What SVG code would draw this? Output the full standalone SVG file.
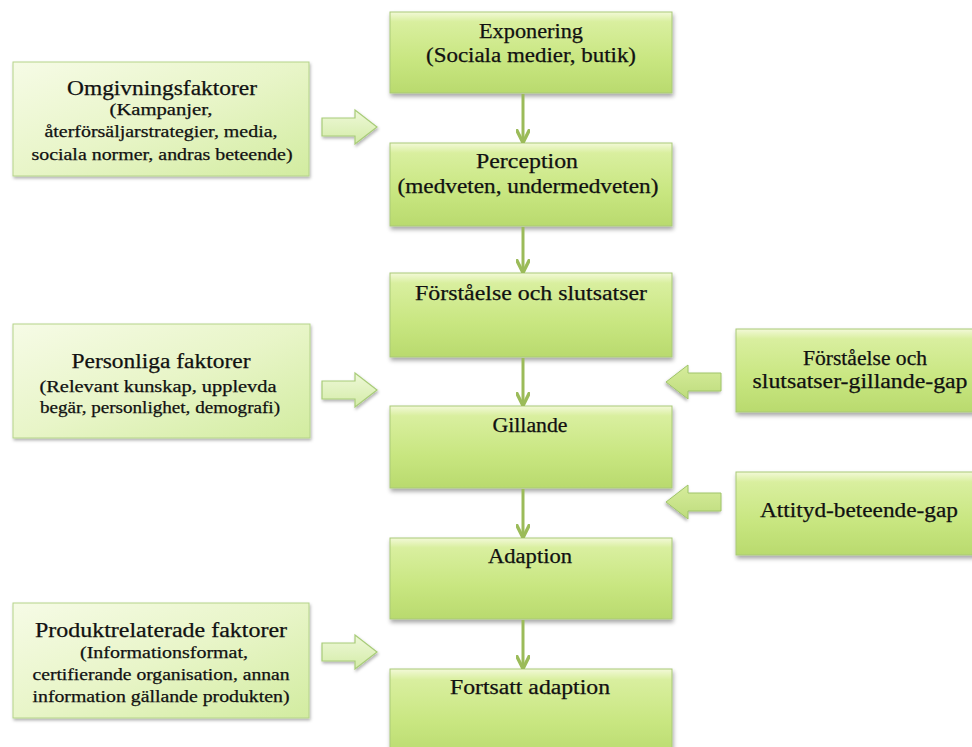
<svg xmlns="http://www.w3.org/2000/svg" width="972" height="747" viewBox="0 0 972 747">
<defs>
<linearGradient id="gMain" x1="0" y1="0" x2="0" y2="1">
<stop offset="0" stop-color="#f3f9d8"/>
<stop offset="0.12" stop-color="#d9ef9f"/>
<stop offset="0.6" stop-color="#c8e680"/>
<stop offset="1" stop-color="#b9da6e"/>
</linearGradient>
<linearGradient id="gSide" x1="0" y1="0" x2="1" y2="1">
<stop offset="0" stop-color="#f6fbe6"/>
<stop offset="0.5" stop-color="#e8f5c8"/>
<stop offset="1" stop-color="#d2eca0"/>
</linearGradient>
<linearGradient id="gArrow" x1="0" y1="0" x2="0" y2="1">
<stop offset="0" stop-color="#eef8d8"/>
<stop offset="1" stop-color="#d4eca8"/>
</linearGradient>
<linearGradient id="gArrowR" x1="0" y1="0" x2="0" y2="1">
<stop offset="0" stop-color="#d6ec9c"/>
<stop offset="1" stop-color="#bedc7c"/>
</linearGradient>
<filter id="sh" x="-5%" y="-10%" width="115%" height="130%">
<feDropShadow dx="1" dy="3" stdDeviation="2" flood-color="#000" flood-opacity="0.35"/>
</filter>
<filter id="shs" x="-10%" y="-20%" width="130%" height="150%">
<feDropShadow dx="1" dy="2" stdDeviation="1.5" flood-color="#000" flood-opacity="0.3"/>
</filter>
<marker id="ah" viewBox="0 0 10 10" refX="8" refY="5" markerWidth="4.5" markerHeight="4.5" orient="auto" markerUnits="strokeWidth">
<path d="M0,0 L10,5 L0,10" fill="none" stroke="#9bbb59" stroke-width="2.5"/>
</marker>
<path id="rarrow" d="M0,-9 L33,-9 L33,-17 L55,0 L33,17 L33,9 L0,9 Z"/>
</defs>
<style>
.main{fill:url(#gMain);stroke:#a9c978;stroke-width:1;filter:url(#sh)}
.side{fill:url(#gSide);stroke:#b5d38a;stroke-width:1;filter:url(#shs)}
.ba{fill:url(#gArrow);stroke:#a8cc78;stroke-width:1.2;filter:url(#shs)}
.baR{fill:url(#gArrowR);stroke:#9fc46a;stroke-width:1;filter:url(#shs)}
text{font-family:"Liberation Serif","DejaVu Serif",serif;fill:#111;text-anchor:middle;stroke:#111;stroke-width:0.25}
.t{font-size:20px}
.s{font-size:16px}
.con line{stroke:#9bbb59;stroke-width:3;marker-end:url(#ah)}
</style>
<rect width="972" height="747" fill="#fff"/>

<g id="exponering">
<rect class="main" x="390" y="12" width="282" height="81"/>
<text class="t" x="531" y="38" textLength="104" lengthAdjust="spacingAndGlyphs">Exponering</text>
<text class="t" x="531" y="62" textLength="210" lengthAdjust="spacingAndGlyphs">(Sociala medier, butik)</text>
</g>
<g id="perception">
<rect class="main" x="390" y="143" width="282" height="83"/>
<text class="t" x="527" y="168" textLength="102" lengthAdjust="spacingAndGlyphs">Perception</text>
<text class="t" x="528" y="193" textLength="261" lengthAdjust="spacingAndGlyphs">(medveten, undermedveten)</text>
</g>
<g id="forstaelse">
<rect class="main" x="390" y="273" width="282" height="84"/>
<text class="t" x="531" y="300" textLength="232" lengthAdjust="spacingAndGlyphs">Förståelse och slutsatser</text>
</g>
<g id="gillande">
<rect class="main" x="390" y="406" width="282" height="82"/>
<text class="t" x="530" y="432" textLength="75" lengthAdjust="spacingAndGlyphs">Gillande</text>
</g>
<g id="adaption">
<rect class="main" x="390" y="538" width="282" height="81"/>
<text class="t" x="530" y="563" textLength="84" lengthAdjust="spacingAndGlyphs">Adaption</text>
</g>
<g id="fortsatt">
<rect class="main" x="390" y="669" width="282" height="90"/>
<text class="t" x="530" y="694" textLength="160" lengthAdjust="spacingAndGlyphs">Fortsatt adaption</text>
</g>

<g id="omgivning">
<rect class="side" x="13" y="62" width="296" height="114"/>
<text class="t" x="162" y="95" textLength="190" lengthAdjust="spacingAndGlyphs">Omgivningsfaktorer</text>
<text class="s" x="161" y="115" textLength="103" lengthAdjust="spacingAndGlyphs">(Kampanjer,</text>
<text class="s" x="161" y="137" textLength="233" lengthAdjust="spacingAndGlyphs">återförsäljarstrategier, media,</text>
<text class="s" x="162" y="160" textLength="261" lengthAdjust="spacingAndGlyphs">sociala normer, andras beteende)</text>
</g>
<g id="personliga">
<rect class="side" x="13" y="324" width="297" height="114"/>
<text class="t" x="161" y="368" textLength="179" lengthAdjust="spacingAndGlyphs">Personliga faktorer</text>
<text class="s" x="158" y="392" textLength="237" lengthAdjust="spacingAndGlyphs">(Relevant kunskap, upplevda</text>
<text class="s" x="160" y="413" textLength="240" lengthAdjust="spacingAndGlyphs">begär, personlighet, demografi)</text>
</g>
<g id="produkt">
<rect class="side" x="13" y="603" width="296" height="115"/>
<text class="t" x="161" y="637" textLength="252" lengthAdjust="spacingAndGlyphs">Produktrelaterade faktorer</text>
<text class="s" x="164" y="658" textLength="168" lengthAdjust="spacingAndGlyphs">(Informationsformat,</text>
<text class="s" x="161" y="680" textLength="257" lengthAdjust="spacingAndGlyphs">certifierande organisation, annan</text>
<text class="s" x="161" y="702" textLength="257" lengthAdjust="spacingAndGlyphs">information gällande produkten)</text>
</g>

<g id="gap1">
<rect class="main" x="736" y="329" width="240" height="83"/>
<text class="t" x="865" y="365" textLength="124" lengthAdjust="spacingAndGlyphs">Förståelse och</text>
<text class="t" x="860" y="388" textLength="215" lengthAdjust="spacingAndGlyphs">slutsatser-gillande-gap</text>
</g>
<g id="gap2">
<rect class="main" x="736" y="472" width="240" height="83"/>
<text class="t" x="859" y="517" textLength="198" lengthAdjust="spacingAndGlyphs">Attityd-beteende-gap</text>
</g>

<g id="connectors">
<g class="con">
<line x1="523" y1="94" x2="523" y2="140"/>
<line x1="523" y1="227" x2="523" y2="270"/>
<line x1="523" y1="358" x2="523" y2="403"/>
<line x1="523" y1="489" x2="523" y2="535"/>
<line x1="523" y1="620" x2="523" y2="666"/>
</g>
<use href="#rarrow" class="ba" transform="translate(322,127)"/>
<use href="#rarrow" class="ba" transform="translate(322,390)"/>
<use href="#rarrow" class="ba" transform="translate(322,652)"/>
<use href="#rarrow" class="baR" transform="translate(721,382) scale(-1,1)"/>
<use href="#rarrow" class="baR" transform="translate(721,502) scale(-1,1)"/>
</g>
</svg>
